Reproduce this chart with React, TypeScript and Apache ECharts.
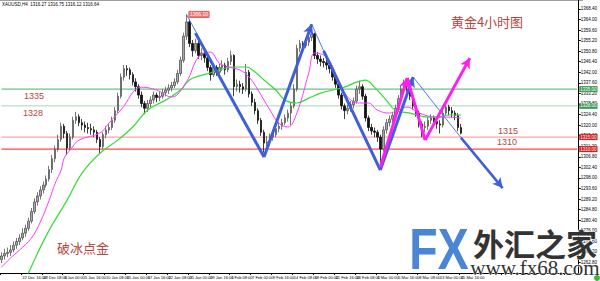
import React, { useEffect, useRef } from "react";
import * as echarts from "echarts";

// ---- data ----
const header = "XAUUSD,H4  1316.27 1316.75 1316.12 1316.64";

const xTickLabels = [
  "20 Dec 2017", "22 Dec 16:00", "28 Dec 08:00", "3 Jan 00:00", "5 Jan 16:00",
  "10 Jan 08:00", "15 Jan 00:00", "17 Jan 16:00", "22 Jan 08:00", "25 Jan 00:00",
  "29 Jan 16:00", "1 Feb 08:00", "7 Feb 00:00", "9 Feb 16:00", "14 Feb 08:00",
  "19 Feb 00:00", "21 Feb 16:00", "26 Feb 08:00", "1 Mar 00:00", "5 Mar 16:00",
  "8 Mar 08:00", "13 Mar 00:00", "15 Mar 16:00",
];

// [open, close, low, high]
const candles: number[][] = [
  [1264, 1265.5, 1262.5, 1267], [1265.5, 1266.5, 1264, 1268.5], [1266.5, 1267, 1265, 1269],
  [1267, 1268, 1265.5, 1270], [1268, 1270, 1267, 1271.5], [1270, 1271.5, 1268.5, 1273],
  [1271.5, 1273, 1270, 1274.5], [1273, 1275, 1272, 1277], [1275, 1277, 1273.5, 1278.5],
  [1277, 1280, 1276, 1281.5], [1280, 1284, 1279, 1285.5], [1284, 1288, 1283, 1289.5],
  [1288, 1290.5, 1286.5, 1292], [1290.5, 1293, 1289, 1294.5], [1293, 1295, 1291.5, 1296.5],
  [1295, 1297.5, 1294, 1299], [1297.5, 1301.5, 1296.5, 1303], [1301.5, 1306, 1300, 1307.5],
  [1306, 1310, 1304.5, 1311.5], [1310, 1314, 1309, 1316], [1314, 1319.5, 1313, 1321],
  [1319.5, 1316.5, 1314.5, 1320.5], [1316.5, 1310.5, 1307.5, 1317.5], [1310.5, 1315, 1309.5, 1316.5],
  [1315, 1322, 1314, 1323.5], [1322, 1323.5, 1320.5, 1325.5], [1323.5, 1321, 1319.5, 1324.5],
  [1321, 1320, 1318, 1322.5], [1320, 1319, 1317, 1321.5], [1319, 1318.5, 1316.5, 1321],
  [1318.5, 1318, 1316, 1320.5], [1318, 1317, 1315, 1319.5], [1317, 1314, 1312.5, 1318],
  [1314, 1311, 1308, 1315], [1311, 1316, 1310, 1317], [1316, 1318, 1314.5, 1319.5],
  [1318, 1319, 1316.5, 1320.5], [1319, 1322, 1318, 1323.5], [1322, 1326, 1321, 1327.5],
  [1326, 1332, 1325, 1333.5], [1332, 1340, 1331, 1341.5], [1340, 1343.5, 1338.5, 1345],
  [1343.5, 1343, 1340.5, 1345], [1343, 1341, 1339, 1344], [1341, 1338, 1336.5, 1342],
  [1338, 1336, 1334, 1339.5], [1336, 1332.5, 1331, 1337], [1332.5, 1329, 1327.5, 1334],
  [1329, 1327, 1324.5, 1330], [1327, 1329, 1325.5, 1330.5], [1329, 1330.5, 1327.5, 1332],
  [1330.5, 1332.5, 1329, 1334], [1332.5, 1331.5, 1329.5, 1333.5], [1331.5, 1332, 1330, 1334],
  [1332, 1333.5, 1331, 1335], [1333.5, 1334.5, 1332, 1336], [1334.5, 1335.5, 1333, 1337],
  [1335.5, 1336.5, 1334, 1338], [1336.5, 1338, 1335.5, 1339.5], [1338, 1341.5, 1337, 1343],
  [1341.5, 1347, 1340.5, 1348.5], [1347, 1357, 1346, 1358.5], [1357, 1363, 1355.5, 1366.1],
  [1363, 1354, 1352.5, 1364], [1354, 1351, 1348.5, 1355.5], [1351, 1354, 1350, 1356],
  [1354, 1349, 1347.5, 1355], [1349, 1350, 1347, 1352], [1350, 1348, 1346, 1351.5],
  [1348, 1344, 1342.5, 1349], [1344, 1341, 1338.5, 1345], [1341, 1344, 1340, 1345.5],
  [1344, 1342, 1340.5, 1345], [1342, 1344, 1341, 1345.5], [1344, 1345, 1342.5, 1347],
  [1345, 1343, 1341, 1346], [1343, 1346.5, 1342, 1348], [1346.5, 1349, 1345, 1351],
  [1349, 1336, 1332, 1349.5], [1336, 1337, 1334, 1339], [1337, 1336, 1333.5, 1338.5],
  [1336, 1335, 1333, 1337.5], [1335, 1342, 1334, 1345.5], [1342, 1333, 1331.5, 1343],
  [1333, 1329.5, 1328, 1334], [1329.5, 1326, 1324.5, 1331], [1326, 1322, 1320.5, 1327],
  [1322, 1317, 1315.5, 1323], [1317, 1312.5, 1308.5, 1318], [1312.5, 1313, 1310, 1315.5],
  [1313, 1315, 1311.5, 1316.5], [1315, 1316, 1313.5, 1318], [1316, 1318.5, 1315, 1320],
  [1318.5, 1319.5, 1317, 1321], [1319.5, 1321, 1318, 1322.5], [1321, 1323, 1320, 1324.5],
  [1323, 1325, 1321.5, 1326.5], [1325, 1328, 1320, 1329.5], [1328, 1335, 1327, 1337],
  [1335, 1352, 1334, 1353.5], [1352, 1354, 1350.5, 1355.5], [1354, 1353, 1351, 1355],
  [1353, 1354.5, 1352, 1356], [1354.5, 1356.5, 1353, 1358], [1356.5, 1358, 1355, 1361.5],
  [1358, 1349, 1347.5, 1358.5], [1349, 1347.5, 1345.5, 1350.5], [1347.5, 1346.5, 1344.5, 1349],
  [1346.5, 1346, 1344, 1348], [1346, 1345, 1343, 1347.5], [1345, 1343.5, 1341.5, 1346],
  [1343.5, 1340, 1338.5, 1344.5], [1340, 1337, 1335.5, 1341], [1337, 1332.5, 1331, 1338],
  [1332.5, 1328, 1326.5, 1333.5], [1328, 1326, 1322.5, 1329], [1326, 1327, 1324.5, 1328.5],
  [1327, 1328.5, 1325.5, 1330], [1328.5, 1330, 1327, 1331.5], [1330, 1335, 1329, 1336.5],
  [1335, 1336, 1333, 1338.5], [1336, 1332, 1330.5, 1337], [1332, 1323, 1321.5, 1333],
  [1323, 1319, 1317.5, 1324], [1319, 1317.5, 1316, 1320.5], [1317.5, 1317, 1315, 1319],
  [1317, 1315, 1313, 1318], [1315, 1310, 1303, 1316], [1310, 1318, 1309, 1319.5],
  [1318, 1321, 1316.5, 1322.5], [1321, 1322.5, 1319.5, 1324], [1322.5, 1324, 1321, 1325.5],
  [1324, 1327, 1323, 1328.5], [1327, 1331, 1326, 1332.5], [1331, 1335, 1330, 1336.5],
  [1335, 1337.5, 1333.5, 1339], [1337.5, 1336, 1334, 1339.5], [1336, 1332, 1330.5, 1337],
  [1332, 1328, 1326.5, 1333], [1328, 1325, 1323.5, 1329], [1325, 1320.5, 1319, 1326],
  [1320.5, 1319, 1315, 1321.5], [1319, 1319.5, 1317, 1321.5], [1319.5, 1322, 1318, 1323.5],
  [1322, 1323, 1320.5, 1324.5], [1323, 1321.5, 1319.5, 1324], [1321.5, 1320.5, 1318.5, 1322.5],
  [1320.5, 1320, 1316.5, 1322], [1320, 1325, 1319, 1326.5], [1325, 1327.5, 1324, 1329],
  [1327.5, 1326, 1324, 1328.5], [1326, 1325, 1323, 1327.5], [1325, 1324, 1322, 1326],
  [1324, 1319, 1317.5, 1325], [1319, 1316.64, 1316.12, 1320.5],
];

// moving averages: [bar index, price]
const maFast: number[][] = [
  [0, 1260.8], [3, 1264.6], [6, 1267.9], [10, 1272.9], [13, 1279.6], [16, 1288.75],
  [18, 1295.8], [20, 1301.25], [21, 1306.25], [23, 1309.6], [26, 1313.75], [33, 1316.7],
  [36, 1320.8], [40, 1326.25], [47, 1335.8], [52, 1334.6], [57, 1331.7], [62, 1338],
  [66, 1348.3], [70, 1350.4], [73, 1345.8], [76, 1344.2], [80, 1342.9], [83, 1340],
  [86, 1334.6], [90, 1326.25], [93, 1320.8], [96, 1319.2], [99, 1325], [103, 1341.7],
  [105, 1350], [109, 1348.3], [113, 1338.75], [116, 1331.7], [120, 1329.2], [123, 1329.2],
  [126, 1326.25], [130, 1325], [133, 1326.25], [136, 1327.5], [140, 1325], [146, 1323.3],
  [150, 1323.3], [154, 1322.9],
];
const maSlow: number[][] = [
  [5, 1247], [11, 1263.75], [16, 1276.25], [22, 1288.75], [27, 1300], [33, 1308.3],
  [39, 1313.75], [44, 1319.2], [49, 1326.25], [55, 1330.4], [60, 1334.6], [63, 1338.75],
  [66, 1340.4], [70, 1341.7], [73, 1342.9], [77, 1344.2], [82, 1344.2], [85, 1342.1],
  [88, 1338.75], [92, 1334.6], [95, 1330.4], [99, 1329.2], [103, 1331.25], [107, 1333.3],
  [111, 1334.6], [115, 1335.8], [119, 1337.9], [122, 1338.75], [125, 1335.8], [129, 1330.4],
  [132, 1326.25], [137, 1325], [143, 1323.3], [146, 1323.3], [150, 1324.2], [154, 1324.2],
];

const levelPrices = [1335, 1328, 1315, 1310];
const levelColors = ["#4fae66", "#a9d4b4", "#ff8c8c", "#ff1a1a"];
const levelTags = ["1335.00", "1328.00", "1315.00", "1310.00"];
const levelTagBg = ["#3f9a57", "#3f9a57", "#d62020", "#e01818"];

// trend lines: [fromIdx, fromPrice, toIdx, toPrice]
const blueThin = [
  [62, 1366.1, 88, 1306.7],
  [104, 1362, 108, 1350.9],
  [138, 1340, 154, 1314.8],
];
const blueThick = [
  [65, 1358.3, 88, 1306.7],
  [108, 1350.9, 127, 1301.25],
];
const blueArrows = [
  [88, 1306.7, 104, 1362],
  [127, 1301.25, 138, 1340],
  [154, 1314.8, 168, 1293.75],
];
const magentaThick = [[136, 1339.6, 142, 1313.75]];
const magentaArrows = [
  [127, 1302.5, 136, 1339.6],
  [142, 1313.75, 157, 1347.9],
];

const peak = { idx: 62, price: 1366.1, text: "1366.10" };
const TOTAL_SLOTS = 194;

const Y_MIN = 1258.4;
const Y_MAX = 1372.1;
const Y_STEP = 4.4;

export default function App() {
  const ref = useRef<HTMLDivElement>(null);

  useEffect(() => {
    if (!ref.current) return;
    const chart = echarts.init(ref.current, undefined, { renderer: "svg" });

    const cats = Array.from({ length: TOTAL_SLOTS }, (_, i) => String(i));

    const seg = (l: number[], color: string, width: number, arrow: boolean) => [
      { coord: [l[0], l[1]], symbol: "none", lineStyle: { color, width, type: "solid" }, itemStyle: { color } },
      { coord: [l[2], l[3]], symbol: arrow ? "arrow" : "none", symbolSize: arrow ? [8, 10] : 0, itemStyle: { color } },
    ];

    const lineData: any[] = [];
    blueThin.forEach((l) => lineData.push(seg(l, "#5577e6", 1, false)));
    blueThick.forEach((l) => lineData.push(seg(l, "#3d5fd9", 3, false)));
    blueArrows.forEach((l, k) => lineData.push(seg(l, "#3d5fd9", k === 2 ? 2.5 : 3, true)));
    magentaThick.forEach((l) => lineData.push(seg(l, "#ff1ef0", 3, false)));
    magentaArrows.forEach((l) => lineData.push(seg(l, "#ff1ef0", 3, true)));

    const levelSeries: any[] = levelPrices.map((p, k) => ({
      type: "line",
      data: [
        [0, p],
        [TOTAL_SLOTS - 1, p],
      ],
      symbol: "none",
      silent: true,
      z: 1,
      color: levelColors[k],
      lineStyle: { color: levelColors[k], width: 1, type: "solid" },
      endLabel: {
        show: true,
        formatter: levelTags[k],
        color: "#fff",
        backgroundColor: levelTagBg[k],
        fontSize: 4.5,
        fontFamily: "Liberation Sans",
        padding: [1, 1, 0, 1],
        distance: 2,
      },
    }));

    const txt = (text: string, x: number, y: number, font: string, fill: string, extra: any = {}) => ({
      type: "text",
      x,
      y,
      z: 100,
      silent: true,
      style: {
        text,
        font,
        fill,
        textAlign: "center",
        textVerticalAlign: "middle",
        align: "center",
        verticalAlign: "middle",
        ...extra,
      },
    });

    const annColor = "#b5473f";

    chart.setOption({
      animation: false,
      backgroundColor: "#ffffff",
      grid: { left: 0, right: 17, top: 0, bottom: 8 },
      xAxis: {
        type: "category",
        data: cats,
        boundaryGap: true,
        axisLine: { show: true, lineStyle: { color: "#000", width: 1 } },
        axisTick: { show: true, interval: 6, length: 2, lineStyle: { color: "#000" } },
        axisLabel: {
          interval: 6,
          fontSize: 4,
          color: "#000",
          fontFamily: "Liberation Sans",
          align: "left",
          margin: 2,
          formatter: (_v: string, i: number) => xTickLabels[i / 7] ?? "",
        },
        splitLine: { show: false },
      },
      yAxis: {
        type: "value",
        position: "right",
        min: Y_MIN,
        max: Y_MAX,
        interval: Y_STEP,
        axisLine: { show: true, lineStyle: { color: "#000", width: 1 } },
        axisTick: { show: true, length: 2, lineStyle: { color: "#000" } },
        axisLabel: {
          fontSize: 4.5,
          color: "#000",
          fontFamily: "Liberation Sans",
          margin: 2,
          showMaxLabel: false,
          showMinLabel: false,
          formatter: (v: number) => v.toFixed(2),
        },
        splitLine: { show: false },
      },
      series: [
        ...levelSeries,
        {
          type: "candlestick",
          data: candles,
          barWidth: 2,
          z: 2,
          itemStyle: {
            color: "#a8a8a8",
            color0: "#111111",
            borderColor: "#555555",
            borderColor0: "#111111",
            borderWidth: 0.8,
          },
          markLine: {
            silent: true,
            animation: false,
            symbol: ["none", "none"],
            label: { show: false },
            data: lineData,
          },
          markPoint: {
            silent: true,
            animation: false,
            data: [
              {
                coord: [peak.idx, peak.price],
                symbol: "rect",
                symbolSize: 1,
                itemStyle: { color: "rgba(0,0,0,0)" },
                label: {
                  show: true,
                  position: "right",
                  distance: 2,
                  formatter: peak.text,
                  color: "#fff",
                  backgroundColor: "#f47474",
                  borderColor: "#e04040",
                  borderWidth: 0.5,
                  fontSize: 5,
                  fontFamily: "Liberation Sans",
                  padding: [1, 1, 0, 1],
                },
              },
            ],
          },
        },
        {
          type: "line",
          data: maSlow,
          symbol: "none",
          smooth: 0.4,
          lineStyle: { color: "#33dd33", width: 1.2 },
          z: 3,
        },
        {
          type: "line",
          data: maFast,
          symbol: "none",
          smooth: 0.4,
          lineStyle: { color: "#ff3bff", width: 1 },
          z: 3,
        },
      ],
      graphic: [
        { type: "line", shape: { x1: 0, y1: 0.5, x2: 583, y2: 0.5 }, style: { stroke: "#a0a0a0", lineWidth: 1 }, silent: true },
        txt(header, 2, 4, '4.5px "Liberation Sans"', "#000", { textAlign: "left", align: "left" }),
        txt("1335", 34, 96, '9px "Liberation Sans"', annColor),
        txt("1328", 33, 113, '9px "Liberation Sans"', annColor),
        txt("1315", 508, 131, '9px "Liberation Sans"', annColor),
        txt("1310", 507, 142, '9px "Liberation Sans"', annColor),
        txt("黄金4小时图", 487, 21, '13px "Noto Sans CJK SC"', annColor),
        txt("破冰点金", 83, 247, '13px "Noto Sans CJK SC"', annColor),
        {
          type: "text",
          x: 439,
          y: 249,
          scaleX: 0.8,
          z: 110,
          silent: true,
          style: {
            text: "FX",
            font: 'bold 58px "Liberation Sans"',
            fill: "#4a86d4",
            stroke: "#ffffff",
            lineWidth: 1.5,
            textAlign: "center",
            textVerticalAlign: "middle",
            align: "center",
            verticalAlign: "middle",
          },
        },
        txt("外汇之家", 535, 242, 'bold 31px "Noto Sans CJK SC"', "#333333", { stroke: "#ffffff", lineWidth: 1 }),
        txt("www.fx68.com", 535, 268, '21px "Liberation Serif"', "#333333", { stroke: "#ffffff", lineWidth: 1 }),
        { type: "circle", shape: { cx: 597, cy: 278, r: 3 }, style: { fill: "#38b838" }, z: 120, silent: true },
      ],
    });

    return () => chart.dispose();
  }, []);

  return <div ref={ref} style={{ position: "fixed", left: 0, top: 0, width: 600, height: 281 }} />;
}
